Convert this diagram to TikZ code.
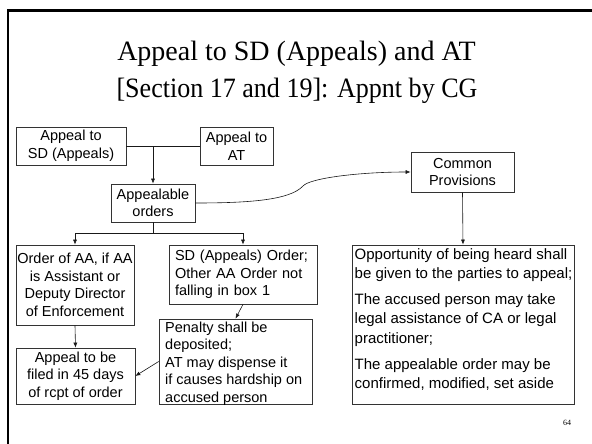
\documentclass[tikz,border=0pt]{standalone}
\usepackage{fontspec}
\setmainfont{Liberation Sans}
\newfontfamily\titlefont{Liberation Serif}
\newfontfamily\titlefontB[FakeStretch=0.93]{Liberation Serif}
\usetikzlibrary{arrows.meta}
\begin{document}
\begin{tikzpicture}[x=1pt,y=-1pt,
  bx/.style={draw=black!80, line width=0.7pt, inner sep=0pt, align=center,
    font=\fontsize{14.5}{17.5}\selectfont},
  txt/.style={inner sep=0pt, align=left, anchor=north west},
  arr/.style={-{Latex[length=5pt,width=4pt]}, line width=0.6pt, draw=black!90},
  ln/.style={line width=0.6pt, draw=black!90},
  frame/.style={draw=black, line width=2.5pt}]
\useasboundingbox (0,0) rectangle (592,444);
\fill[white] (0,0) rectangle (592,444);

% title
\node[font=\titlefont\fontsize{28}{34}\selectfont, anchor=base, inner sep=0pt] (t1) at (296.5,61) {Appeal to SD (Appeals) and AT};
\node[font=\titlefontB\fontsize{28}{34}\selectfont, anchor=base, inner sep=0pt] (t2) at (297,98) {[Section 17 and 19]: Appnt by CG};

% boxes
\node[bx, minimum width=110pt, minimum height=38pt] (sd) at (71,146) {Appeal to\\SD (Appeals)};
\node[bx, minimum width=73pt, minimum height=38pt] (at) at (236.5,146) {Appeal to\\AT};
\node[bx, minimum width=84pt, minimum height=38pt] (ao) at (153,203) {Appealable\\orders};
\node[bx, minimum width=118pt, minimum height=80pt] (order) at (75,285) {Order of AA, if AA\\is Assistant or\\Deputy Director\\of Enforcement};
\node[bx, align=left, text width=136pt, inner xsep=6pt, minimum height=59pt] (sdo) at (243,274.5) {SD (Appeals) Order;\\Other AA Order not\\falling in box 1};
\node[bx, minimum width=153pt, minimum height=85pt] (pen) at (235.5,361.5) {};
\node[txt, font=\fontsize{14.5}{17.5}\selectfont] (pentext) at (165,321.5) {Penalty shall be\\deposited;\\AT may dispense it\\if causes hardship on\\accused person};
\node[bx, minimum width=119pt, minimum height=56pt] (filed) at (75.5,376) {Appeal to be\\filed in 45 days\\of rcpt of order};
\node[bx, minimum width=103pt, minimum height=40pt] (cp) at (462.5,172) {Common\\Provisions};
\node[bx, minimum width=222pt, minimum height=159pt] (big) at (463,324.5) {};
\node[txt, font=\fontsize{15}{19.3}\selectfont] (bigtext) at (354.5,248.5) {Opportunity of being heard shall\\be given to the parties to appeal;\\[6.5pt]The accused person may take\\legal assistance of CA or legal\\practitioner;\\[6.5pt]The appealable order may be\\confirmed, modified, set aside};

% page number
\node[font=\titlefont\fontsize{8}{9}\selectfont, anchor=base, inner sep=0pt] (pg) at (567,425) {64};

% connectors
\draw[ln] (sd.east) -- (at.west);
\draw[arr] (ao.north |- sd.east) -- (ao.north);
\draw[arr] (ao.south) -- ++(0,11) -| (order.north);
\draw[arr] (ao.south) -- ++(0,11) -| (sdo.north);
\draw[arr] (order.south) -- (filed.north);
\draw[arr] (sdo.south) -- (pen.north);
\draw[arr] (pen.west) -- (filed.east);
\draw[arr] (cp.south) -- (big.north);
\coordinate (mid) at (303,186);
\draw[arr] (ao.east) .. controls (250,203) and (290,200) .. (mid)
  .. controls (310,178) and (360,172) .. (cp.west);

% slide frame (top and left edges)
\coordinate (fr1) at (592,10.5);
\coordinate (fr2) at (8,10.5);
\coordinate (fr3) at (8,444);
\draw[frame] (fr1) -- (fr2) -- (fr3);
\end{tikzpicture}
\end{document}
